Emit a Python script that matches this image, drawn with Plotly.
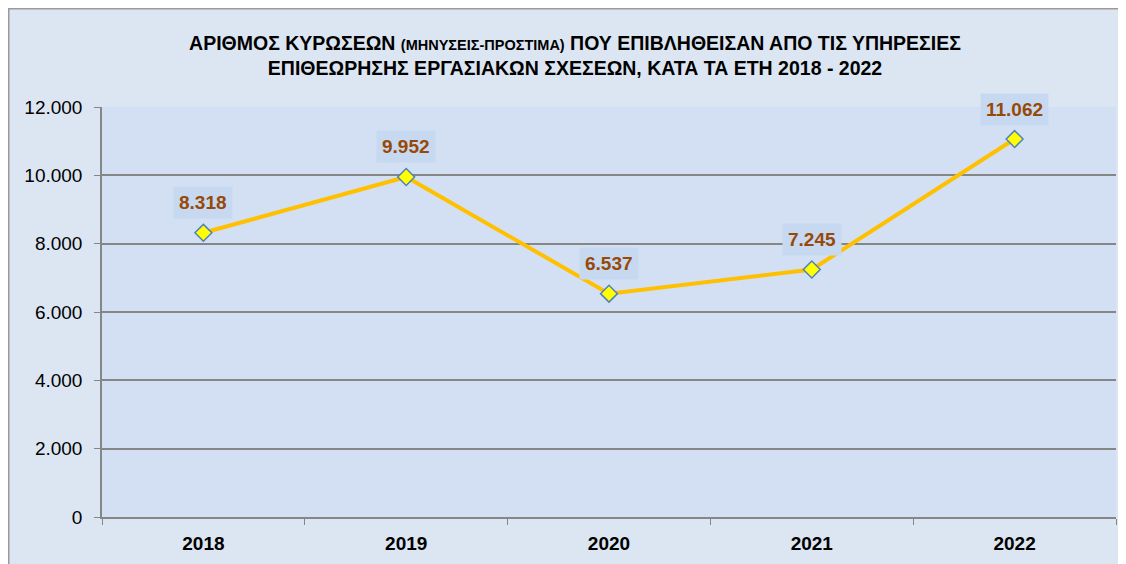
import plotly.graph_objects as go

years = ["2018", "2019", "2020", "2021", "2022"]
sanctions = [8318, 9952, 6537, 7245, 11062]
y_ticks = [0, 2000, 4000, 6000, 8000, 10000, 12000]
y_tick_labels = ["0", "2.000", "4.000", "6.000", "8.000", "10.000", "12.000"]

title_line1 = ("ΑΡΙΘΜΟΣ ΚΥΡΩΣΕΩΝ <span style='font-size:14.5px'>(ΜΗΝΥΣΕΙΣ-ΠΡΟΣΤΙΜΑ)</span>"
               " ΠΟΥ ΕΠΙΒΛΗΘΕΙΣΑΝ ΑΠΟ ΤΙΣ ΥΠΗΡΕΣΙΕΣ")
title_line2 = "ΕΠΙΘΕΩΡΗΣΗΣ ΕΡΓΑΣΙΑΚΩΝ ΣΧΕΣΕΩΝ, ΚΑΤΑ ΤΑ ΕΤΗ 2018 - 2022"

# page body has an 8px margin, so the figure starts at (8, 8)
W, H = 1118, 556
ML, MR, MT, MB = 94, 10, 99, 47
PW, PH = W - ML - MR, H - MT - MB
FONT = "Liberation Sans"


def fmt(v):
    return f"{v:,}".replace(",", ".")


fig = go.Figure()
fig.add_trace(go.Scatter(
    x=years, y=sanctions, mode="lines+markers",
    line=dict(color="#FFC000", width=4),
    marker=dict(symbol="diamond", size=13, color="#FFFF00",
                line=dict(color="#4F81BD", width=1.5)),
    hoverinfo="x+y", showlegend=False,
))

for i, v in enumerate(sanctions):
    fig.add_annotation(
        x=i, y=v, xref="x", yref="y", text=f"<b>{fmt(v)}</b>", showarrow=False,
        yshift=30, bgcolor="#C6D9F1", borderpad=5,
        font=dict(family=FONT, size=19, color="#984807"),
    )


def px_x(p):
    return (p - ML) / PW


def px_y(p):
    return 1 - (p - MT) / PH


# grey frame of the chart area (top and left edges)
fig.add_shape(type="line", xref="paper", yref="paper",
              x0=px_x(0), x1=px_x(W), y0=px_y(0.75), y1=px_y(0.75),
              line=dict(color="#9A9A9A", width=1.5), layer="below")
fig.add_shape(type="line", xref="paper", yref="paper",
              x0=px_x(0.75), x1=px_x(0.75), y0=px_y(0), y1=px_y(H),
              line=dict(color="#9A9A9A", width=1.5), layer="below")

fig.update_layout(
    width=W, height=H,
    margin=dict(l=ML, r=MR, t=MT, b=MB),
    paper_bgcolor="#DCE6F2",
    plot_bgcolor="#D3E0F3",
    separators=",.",
    title=dict(
        text=f"<b>{title_line1}<br>{title_line2}</b>",
        x=567 / W, xanchor="center", y=1 - 42 / H, yanchor="top",
        font=dict(family=FONT, size=19.5, color="black"),
    ),
    font=dict(family=FONT, color="black"),
)

fig.update_xaxes(
    type="category", range=[-0.5, 4.5],
    tickson="boundaries", ticks="outside", ticklen=6, tickcolor="#868686",
    showline=True, linecolor="#868686", linewidth=1.5,
    showgrid=False, ticklabelstandoff=8,
    tickfont=dict(family=FONT, size=19, color="black", weight="bold"),
)
fig.update_yaxes(
    range=[0, 12000], tickvals=y_ticks, ticktext=y_tick_labels,
    ticks="outside", ticklen=6, tickcolor="#868686",
    showline=True, linecolor="#868686", linewidth=1.5,
    showgrid=True, gridcolor="#868686", gridwidth=1.5,
    zeroline=False, ticklabelstandoff=8,
    tickfont=dict(family=FONT, size=19, color="black"),
)

fig.write_html("out.html")
